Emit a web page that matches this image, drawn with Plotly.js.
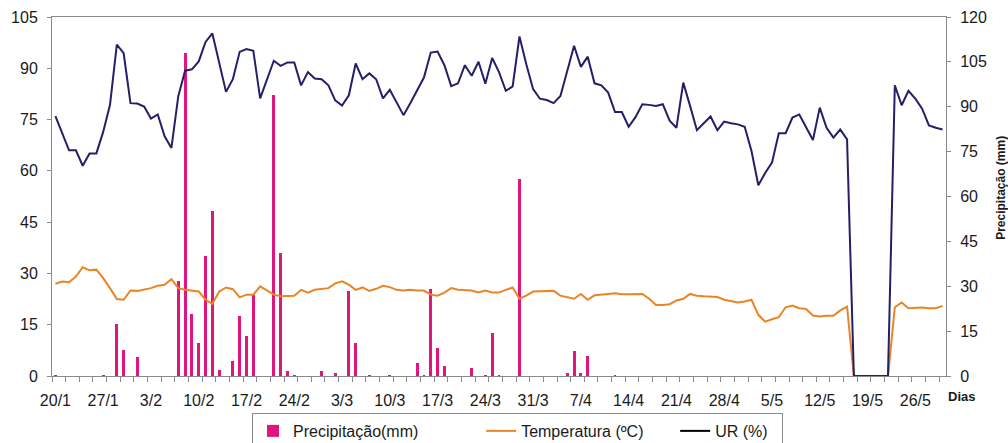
<!DOCTYPE html>
<html>
<head>
<meta charset="utf-8">
<script src="https://cdn.plot.ly/plotly-3.0.1.min.js"></script>
<style>html,body{margin:0;padding:0;background:#fff;}#chart{width:1008px;height:443px;}</style>
</head>
<body>
<div id="chart"></div>
<script>
// ---- data ----
const startDate = "2009-01-20";   // first day of the series (20/1)
const dayCount = 131;             // 20/1 .. 30/5

const precipitacao = [
  0.3,0,0,0,0,0,0,0.3,0,17.4,
  8.7,0,6.5,0,0,0,0,0,31.8,108.1,
  20.6,11.1,40.1,55.2,2.0,0,5.1,20.2,13.5,27.1,
  0,0,93.8,41.1,1.7,0.3,0,0,0,1.8,
  0,1.1,0,28.4,10.9,0,0.3,0,0,0.3,
  0,0,0,4.2,0.3,29.1,9.5,3.4,0,0,
  0,2.8,0,0.3,14.3,0.3,0,0,65.8,0,
  0,0,0,0,0,1.1,8.5,1.1,6.7,0,
  0,0,0.3,0,0,0,0,0,0,0,
  0,0,0,0,0,0,0,0,0,0,
  0,0,0,0,0,0,0,0,0,0,
  0,0,0,0,0,0,0,0,0,0,
  0,0,0,0,0,0,0,0,0,0,0
];

const temperatura = [
  27.0,27.6,27.4,29.1,31.8,30.9,31.1,28.6,25.7,22.5,
  22.3,25.0,24.9,25.2,25.7,26.4,26.7,28.3,25.7,25.2,
  25.0,24.7,22.3,21.1,24.7,25.9,25.4,23.0,23.8,23.8,
  26.2,24.9,23.8,23.3,23.5,23.5,25.2,24.4,25.2,25.4,
  25.7,27.1,27.7,26.7,25.2,25.9,24.9,25.5,26.4,26.0,
  25.2,25.0,25.2,25.0,25.0,23.8,23.5,24.4,25.7,25.2,
  25.0,25.0,24.4,25.0,24.4,24.4,25.2,25.9,22.6,23.5,
  24.7,24.7,24.9,24.9,23.5,23.0,22.6,24.0,22.3,23.6,
  23.9,24.0,24.2,23.9,23.9,23.9,24.0,22.6,20.8,20.8,
  21.0,22.1,22.6,24.0,23.5,23.3,23.3,23.1,22.3,21.8,
  21.5,21.8,22.3,17.9,15.9,16.6,17.2,20.1,20.6,19.8,
  19.6,17.7,17.4,17.6,17.6,19.2,20.3,0,0,0,
  0,0,0,20.1,21.5,19.8,20.0,20.0,19.8,19.8,20.5
];

const ur = [
  76.0,71.1,66.0,66.0,61.5,65.1,65.1,71.4,79.3,96.9,
  94.4,79.8,79.7,78.8,75.3,76.5,70.1,66.7,81.8,89.3,
  89.7,92.0,97.7,100.2,91.7,83.1,86.8,94.8,95.6,95.1,
  81.2,86.5,92.2,90.7,91.7,91.7,85.0,88.9,87.0,86.8,
  85.0,80.6,79.1,82.1,91.4,86.8,88.5,86.8,81.2,83.7,
  80.0,76.3,79.8,83.7,87.3,94.6,94.9,90.9,84.8,85.6,
  90.9,87.8,91.9,85.5,93.0,88.9,83.4,84.7,99.3,91.2,
  83.9,81.1,80.7,79.8,81.9,89.2,96.6,90.4,93.4,85.6,
  85.0,82.9,77.2,77.2,72.9,75.7,79.5,79.3,79.0,79.5,
  74.7,72.6,85.8,79.0,71.9,73.9,75.9,71.9,74.4,73.9,
  73.6,72.9,65.8,55.8,59.4,62.4,71.0,71.0,75.6,76.5,
  72.6,69.0,78.5,72.6,69.7,72.1,69.2,0,0,0,
  0,0,0,85.0,79.2,83.4,81.1,78.2,73.3,72.6,72.1
];

const tickLabels = ["20/1","27/1","3/2","10/2","17/2","24/2","3/3","10/3","17/3","24/3",
                    "31/3","7/4","14/4","21/4","28/4","5/5","12/5","19/5","26/5"];

const seriesNames = ["Precipitação(mm)", "Temperatura (ºC)", "UR (%)"];

// ---- build the date categories ----
const DAY = 86400000;
const t0 = Date.parse(startDate + "T00:00:00Z");
function iso(ms){ return new Date(ms).toISOString().slice(0,19).replace("T"," "); }
const dias = [];
for (let i = 0; i < dayCount; i++) dias.push(iso(t0 + i*DAY));
const tickVals = tickLabels.map((_, k) => iso(t0 + k*7*DAY));

const font = "Liberation Sans, Arial, sans-serif";
const gray = "#8a8a8a";
const pad = n => "\u00A0".repeat(n);

const traces = [
  {
    type: "bar", x: dias, y: precipitacao, yaxis: "y",
    name: seriesNames[0] + pad(13), width: 0.42*DAY,
    marker: {color: "#E0167F", line: {width: 0}}
  },
  {
    type: "scatter", mode: "lines", x: dias, y: temperatura, yaxis: "y2",
    name: seriesNames[1] + pad(6), line: {color: "#EA8526", width: 2}
  },
  {
    type: "scatter", mode: "lines", x: dias, y: ur, yaxis: "y2",
    name: seriesNames[2], showlegend: false, line: {color: "#231F68", width: 2}
  },
  {
    type: "scatter", mode: "lines", x: [null], y: [null], yaxis: "y2",
    name: seriesNames[2] + pad(2), line: {color: "#000000", width: 2}
  }
];

const layout = {
  width: 1008, height: 443,
  margin: {l: 52, r: 62, t: 17, b: 67, autoexpand: false},
  paper_bgcolor: "#fff", plot_bgcolor: "#fff",
  font: {family: font, size: 16, color: "#1a1a1a"},
  showlegend: true,
  bargap: 0,
  xaxis: {
    type: "date",
    range: [iso(t0 - 0.5*DAY), iso(t0 + (dayCount - 0.5)*DAY)],
    tickmode: "array", tickvals: tickVals, ticktext: tickLabels,
    ticks: "", showgrid: false, zeroline: false,
    showline: true, linecolor: gray, linewidth: 1, mirror: true,
    tickfont: {family: font, size: 16, color: "#1a1a1a"},
    ticklabelstandoff: 10,
    minor: {ticks: "outside", ticklen: 5, tickcolor: gray, tickwidth: 1,
            tick0: iso(t0 + 1.5*DAY), dtick: 2*DAY, showgrid: false}
  },
  yaxis: {
    side: "right", range: [0, 120], tick0: 0, dtick: 15,
    ticks: "outside", ticklen: 4, tickcolor: gray,
    showline: true, linecolor: gray, linewidth: 1,
    showgrid: false, zeroline: false,
    tickfont: {family: font, size: 16, color: "#1a1a1a"},
    ticklabelstandoff: 6
  },
  yaxis2: {
    overlaying: "y", side: "left", range: [0, 105], tick0: 0, dtick: 15,
    ticks: "outside", ticklen: 4, tickcolor: gray,
    showline: true, linecolor: gray, linewidth: 1,
    showgrid: false, zeroline: false,
    tickfont: {family: font, size: 16, color: "#1a1a1a"},
    ticklabelstandoff: 6
  },
  legend: {
    orientation: "h", x: 0.2237, xanchor: "left", y: -0.103, yanchor: "top",
    bordercolor: gray, borderwidth: 1, bgcolor: "#fff",
    font: {family: font, size: 16, color: "#1a1a1a"},
    traceorder: "normal"
  },
  annotations: [
    {text: "<b>Dias</b>", xref: "paper", yref: "paper", x: 1.0168, y: -0.056,
     xanchor: "center", yanchor: "middle", showarrow: false,
     font: {family: font, size: 13, color: "#1a1a1a"}},
    {text: "<b>Precipitação (mm)</b>", xref: "paper", yref: "paper", x: 1.0615, y: 0.524,
     xanchor: "center", yanchor: "middle", showarrow: false, textangle: -90,
     font: {family: font, size: 12, color: "#1a1a1a"}}
  ]
};

Plotly.newPlot("chart", traces, layout, {displayModeBar: false, staticPlot: true});
</script>
</body>
</html>
